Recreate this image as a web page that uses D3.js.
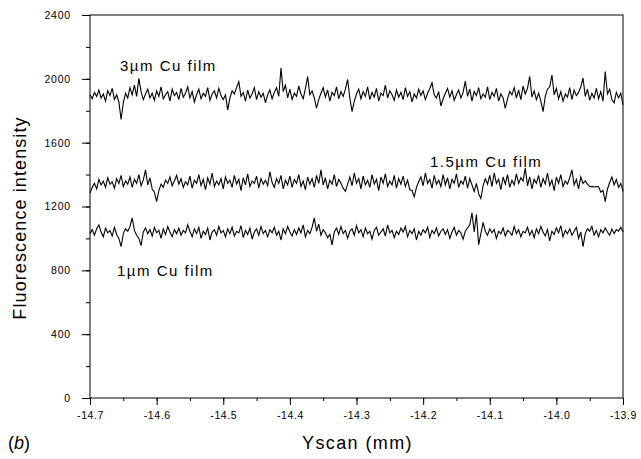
<!DOCTYPE html>
<html><head><meta charset="utf-8">
<script src="https://cdn.jsdelivr.net/npm/d3@7"></script>
<style>
html,body{margin:0;padding:0;background:#fff;}
svg{display:block;}
text{font-family:"Liberation Sans",Arial,sans-serif;fill:#000;}
</style></head>
<body>
<svg id="chart" width="641" height="459"></svg>
<script>
// Scan range (mm); samples are evenly spaced across it
const xStart = -14.7, xEnd = -13.9;
const xTicks = [-14.7,-14.6,-14.5,-14.4,-14.3,-14.2,-14.1,-14.0,-13.9];
const xTickLabels = ["-14.7","-14.6","-14.5","-14.4","-14.3","-14.2","-14.1","-14.0","-13.9"];
const yTicks = [0,400,800,1200,1600,2000,2400];
const seriesNames = ["3\u00B5m Cu film","1.5\u00B5m Cu film","1\u00B5m Cu film"];

const cu3um = [
1900,1875,1915,1890,1930,1880,1905,1860,1925,1895,1940,1870,1900,1855,1745,1850,1910,1880,1945,1900,
1960,1890,2003,1920,1870,1905,1935,1880,1910,1865,1925,1890,1950,1875,1900,1920,1860,1935,1895,1915,
1870,1940,1885,1910,1950,1880,1920,1855,1900,1935,1875,1910,1890,1945,1865,1905,1925,1880,1940,1895,
1870,1900,1805,1880,1925,1905,1945,1982,1890,1915,1860,1930,1880,1905,1945,1870,1920,1885,1910,1850,
1900,1930,1875,1915,1945,1890,2068,1920,1960,1880,1935,1870,1910,1890,1955,1905,1875,1940,2014,1900,
1925,1880,1817,1870,1910,1945,1885,1930,1860,1915,1895,1950,1875,1920,1890,1935,1996,1880,1794,1860,
1905,1935,1875,1920,1890,1950,1870,1915,1885,1940,1860,1910,1895,1960,1880,1925,1900,1865,1930,1885,
1915,1870,1945,1890,1920,1855,1905,1880,1935,1895,1925,1870,1910,1940,1975,1900,1880,1920,1830,1875,
1910,1940,1885,1925,1865,1900,1930,1880,1915,1985,1890,1935,1860,1920,1895,1945,1875,1905,1885,1950,
1870,1915,1890,1940,1860,1905,1880,1815,1875,1920,1900,1945,1880,1930,1870,1955,1905,1940,2015,1885,
1925,1870,1910,1860,1794,1890,1935,1950,2024,1900,1940,1875,1920,1860,1905,1885,1945,1870,1930,1895,
1915,1950,2005,1890,1935,1865,1910,1880,1940,1875,1920,1860,2045,1905,1935,1870,1850,1915,1880,1910,
1836];

const cu15um = [
1285,1320,1345,1310,1370,1335,1360,1320,1380,1340,1355,1315,1375,1345,1395,1325,1360,1340,1385,1320,
1370,1345,1400,1330,1365,1429,1335,1380,1310,1290,1230,1300,1340,1320,1365,1345,1385,1330,1360,1395,
1340,1375,1320,1355,1335,1390,1315,1365,1345,1400,1330,1370,1305,1380,1340,1410,1325,1360,1335,1375,
1310,1385,1345,1365,1320,1395,1340,1370,1300,1380,1335,1405,1325,1360,1345,1390,1315,1375,1340,1365,
1330,1418,1350,1320,1375,1345,1395,1310,1365,1335,1390,1320,1370,1345,1400,1325,1360,1305,1385,1340,
1375,1320,1395,1345,1430,1335,1380,1310,1365,1340,1400,1325,1370,1345,1315,1295,1340,1385,1330,1410,
1345,1375,1310,1390,1335,1365,1320,1400,1340,1370,1300,1385,1345,1405,1325,1360,1335,1395,1315,1375,
1340,1390,1325,1365,1305,1300,1261,1320,1355,1385,1330,1410,1345,1370,1315,1395,1340,1365,1325,1400,
1335,1380,1310,1370,1345,1405,1320,1360,1340,1390,1315,1375,1335,1295,1345,1280,1250,1330,1375,1340,
1395,1325,1410,1345,1370,1305,1385,1340,1400,1320,1365,1335,1405,1345,1380,1360,1440,1330,1385,1310,
1370,1345,1395,1320,1375,1340,1410,1330,1365,1300,1385,1345,1400,1325,1360,1340,1380,1429,1335,1370,
1310,1385,1345,1360,1340,1324,1326,1322,1325,1324,1290,1300,1230,1310,1350,1385,1335,1370,1320,1345,
1295];

const cu1um = [
1030,1055,1020,1060,1085,1040,1010,1065,1035,1050,1015,1070,1025,1000,948,1030,1060,1045,1075,1128,
1050,1020,1000,955,1040,1065,1030,1055,1015,1070,1035,1050,1000,1060,1025,1075,1040,1010,1055,1030,
1065,1020,1050,1035,1085,1045,1010,1060,1030,1070,1000,1045,1025,1065,990,1040,1055,1020,1075,1035,
1050,1010,1060,1030,1070,1015,1045,1035,1080,1005,1050,1025,1065,995,1040,1060,1020,1075,1030,1050,
1010,1055,1035,1070,1020,1045,990,1060,1030,1075,1040,1015,1055,1025,1065,1035,1085,1010,1050,1030,
1070,1128,1045,1090,1020,1055,1035,1005,1025,960,1040,1065,1025,1075,1030,1050,1000,1045,1060,1020,
1080,1035,1055,1010,1065,1030,1045,995,1050,1070,1020,1040,1060,1015,1085,1035,1050,1005,1045,1025,
1065,1040,1075,1010,1050,1030,1060,990,1045,1020,1055,1035,1070,1005,1050,1030,1065,1015,1045,1060,
1025,1055,1000,1040,1070,1020,1050,1035,995,1045,1065,1085,1160,1040,1150,960,1030,1100,1045,1020,
1060,1035,1055,1000,1045,1030,1065,1015,1050,1040,1020,1075,1030,1055,1010,1045,1035,1070,1020,1050,
1005,1060,1030,1075,1040,1015,1055,985,1045,1025,1065,1035,1080,1010,1050,1030,1060,1020,1045,1070,
1000,1040,948,1030,1060,1045,1075,1020,1050,1010,1055,1035,1065,1040,1020,1060,1030,1055,1045,1070,
1040];

const m = {left: 90, right: 623, top: 15, bottom: 398};
const svg = d3.select("#chart");
const FONT = '"Liberation Sans",Arial,sans-serif';

const x = d3.scaleLinear().domain([xStart, xEnd]).range([m.left, m.right]);
const y = d3.scaleLinear().domain([0, 2400]).range([m.bottom, m.top]);

// frame
svg.append("rect").attr("x", m.left).attr("y", m.top)
  .attr("width", m.right - m.left).attr("height", m.bottom - m.top)
  .attr("fill", "none").attr("stroke", "#000").attr("stroke-width", 1);

// x axis: minor + major ticks
const xMinor = d3.range(0, 17).map(i => xStart + i * 0.05);
svg.append("g").attr("transform", `translate(0,${m.bottom})`)
  .call(d3.axisBottom(x).tickValues(xMinor).tickSize(3).tickFormat(""))
  .call(g => g.select(".domain").remove());
const xAxisMaj = svg.append("g").attr("transform", `translate(0,${m.bottom})`)
  .call(d3.axisBottom(x).tickValues(xTicks).tickSize(7).tickPadding(7)
    .tickFormat((d, i) => xTickLabels[i]));
xAxisMaj.select(".domain").remove();
xAxisMaj.selectAll("text").style("font-size", "10.5px").style("font-family", FONT)
  .style("letter-spacing", "0.6px");

// y axis: minor + major ticks
const yMinor = d3.range(0, 13).map(i => i * 200);
svg.append("g").attr("transform", `translate(${m.left},0)`)
  .call(d3.axisLeft(y).tickValues(yMinor).tickSize(4).tickFormat(""))
  .call(g => g.select(".domain").remove());
const yAxisMaj = svg.append("g").attr("transform", `translate(${m.left},0)`)
  .call(d3.axisLeft(y).tickValues(yTicks).tickSize(8).tickPadding(11).tickFormat(d3.format("d")));
yAxisMaj.select(".domain").remove();
yAxisMaj.selectAll("text").style("font-size", "10.5px").style("font-family", FONT)
  .style("letter-spacing", "0.8px");
svg.selectAll(".tick line").attr("stroke", "#000");

// lines
[cu3um, cu15um, cu1um].forEach(s => {
  const xi = d3.scaleLinear().domain([0, s.length - 1]).range([xStart, xEnd]);
  const line = d3.line().x((d, i) => x(xi(i))).y(d => y(d));
  svg.append("path").datum(s).attr("d", line)
    .attr("fill", "none").attr("stroke", "#000").attr("stroke-width", 1.1)
    .attr("stroke-linejoin", "miter");
});

// annotations
const ann = [
  {t: seriesNames[0], x: 120, y: 71},
  {t: seriesNames[1], x: 430, y: 167},
  {t: seriesNames[2], x: 117, y: 276}
];
ann.forEach(a => svg.append("text").attr("x", a.x).attr("y", a.y)
  .style("font-size", "15px").style("letter-spacing", "1.5px").text(a.t));

// axis titles
svg.append("text").attr("x", (m.left + m.right) / 2 + 1).attr("y", 449)
  .attr("text-anchor", "middle").style("font-size", "18px").style("letter-spacing", "1.4px")
  .text("Yscan (mm)");
svg.append("text").attr("transform", `translate(26,218) rotate(-90)`)
  .attr("text-anchor", "middle").style("font-size", "18px").style("letter-spacing", "1.1px")
  .text("Fluorescence intensity");
svg.append("text").attr("x", 8).attr("y", 449).style("font-size", "18px")
  .html('(<tspan font-style="italic">b</tspan>)');
</script>
</body></html>
